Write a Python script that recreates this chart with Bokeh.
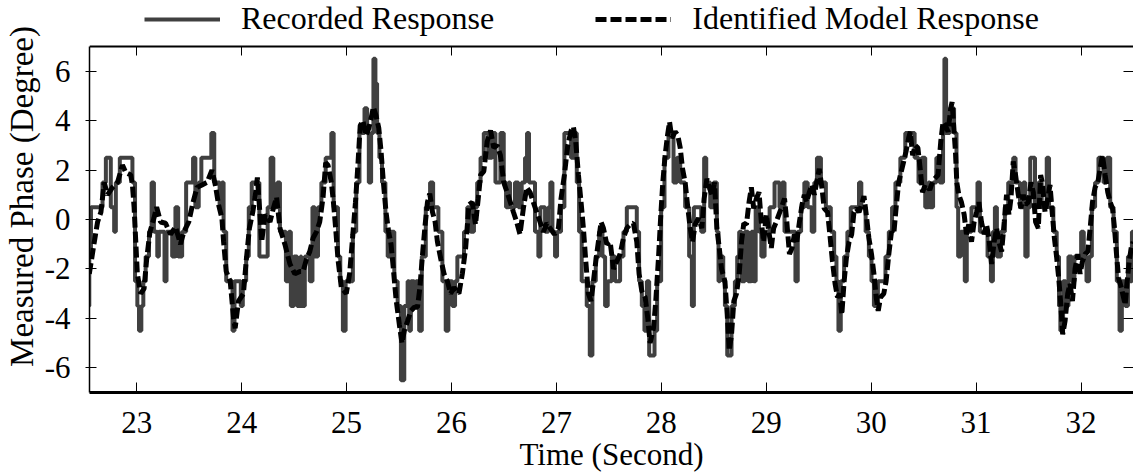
from bokeh.plotting import figure
from bokeh.models import Range1d, LinearAxis, FixedTicker, Legend, LegendItem
from bokeh.embed import file_html
from bokeh.resources import INLINE

# ---- data ----
x_ticks = [23, 24, 25, 26, 27, 28, 29, 30, 31, 32]
y_ticks = [-6, -4, -2, 0, 2, 4, 6]

record_time = [
    22.53, 22.548, 22.564, 22.674, 22.706, 22.753, 22.785, 22.801, 22.839, 22.959,
    22.984, 23.006, 23.022, 23.044, 23.063, 23.085, 23.117, 23.142, 23.164, 23.196,
    23.211, 23.265, 23.284, 23.338, 23.369, 23.395, 23.433, 23.471, 23.537, 23.559,
    23.591, 23.616, 23.711, 23.739, 23.790, 23.812, 23.828, 23.853, 23.913, 23.932,
    23.992, 24.011, 24.043, 24.068, 24.096, 24.169, 24.248, 24.276, 24.302, 24.340,
    24.365, 24.422, 24.450, 24.469, 24.498, 24.529, 24.561,
    24.570, 24.602, 24.649, 24.675, 24.697, 24.728, 24.760, 24.801, 24.855, 24.877,
    24.918, 24.940, 24.965, 24.991, 25.060, 25.092, 25.123, 25.171, 25.196, 25.212,
    25.234, 25.256, 25.275, 25.291, 25.313, 25.338, 25.370, 25.392, 25.424, 25.455,
    25.487, 25.518, 25.550, 25.582, 25.597, 25.613, 25.645, 25.661, 25.692, 25.717,
    25.755, 25.796, 25.825, 25.875, 25.913, 25.945, 25.970, 26.008, 26.034, 26.056,
    26.119, 26.150, 26.182, 26.214, 26.245, 26.277, 26.308, 26.350, 26.387, 26.419,
    26.466, 26.498, 26.520, 26.545,
    26.558, 26.605, 26.637, 26.669, 26.701, 26.720, 26.739, 26.796, 26.828, 26.847,
    26.892, 26.923, 26.942, 26.962, 26.987, 27.006, 27.044, 27.076, 27.140, 27.171,
    27.194, 27.216, 27.241, 27.289, 27.318, 27.343, 27.375, 27.407, 27.439, 27.464,
    27.489, 27.528, 27.559, 27.607, 27.639, 27.671, 27.766, 27.788, 27.814, 27.839,
    27.862, 27.884, 27.935, 27.960, 27.998, 28.030, 28.068, 28.116, 28.148, 28.180,
    28.227, 28.265, 28.291, 28.310, 28.380, 28.408, 28.428, 28.466, 28.498, 28.529,
    28.545,
    28.559, 28.590, 28.606, 28.628, 28.669, 28.701, 28.723, 28.742, 28.764, 28.795,
    28.827, 28.858, 28.880, 28.899, 28.931, 28.953, 28.984, 29.032, 29.079, 29.126,
    29.152, 29.174, 29.278, 29.300, 29.332, 29.363, 29.395, 29.433, 29.458, 29.483,
    29.521, 29.568, 29.615, 29.647, 29.669, 29.688, 29.710, 29.742, 29.773, 29.805,
    29.884, 29.906, 29.947, 29.978, 30.003, 30.026, 30.064, 30.136, 30.168, 30.199,
    30.231, 30.278, 30.325, 30.414, 30.451, 30.483, 30.515, 30.546,
    30.558, 30.590, 30.621, 30.653, 30.685, 30.698, 30.714, 30.749, 30.790, 30.813,
    30.829, 30.854, 30.892, 30.911, 30.956, 31.013, 31.036, 31.109, 31.141, 31.160,
    31.179, 31.198, 31.236, 31.274, 31.306, 31.354, 31.376, 31.418, 31.450, 31.469,
    31.491, 31.516, 31.561, 31.593, 31.625, 31.673, 31.695, 31.736, 31.768, 31.790,
    31.803, 31.829, 31.854, 31.880, 31.911, 31.937, 32.001, 32.026, 32.052, 32.077,
    32.103, 32.134, 32.166, 32.214, 32.246, 32.278, 32.310, 32.341, 32.367, 32.389,
    32.421, 32.447, 32.469, 32.485, 32.52,
]
record_phase = [
    -3.5, -1.5, 0.5, 1.5, 2.5, 0.5, -0.5, 1.5, 2.5, 1.5,
    -2.5, -3.5, -4.5, -3.5, -2.5, -1.5, -0.5, 1.5, -0.5, -1.5,
    -0.5, -2.5, -0.5, -1.5, 0.5, -1.5, -0.5, 1.5, 2.5, 0.5,
    1.5, 2.5, 3.5, 1.5, 0.5, 1.5, -0.5, -2.5, -4.5, -2.5,
    -3.5, -2.5, -1.5, 0.5, 1.5, -1.5, 0.5, 2.5, 0.5, 1.5,
    -0.5, -2.5, -0.5, -3.5, -1.5, -3.5, -1.5,
    -3.5, -1.5, -2.5, 0.5, -1.5, 0.5, 1.5, 2.5, 3.5, 0.5,
    -1.5, -2.5, -4.5, -2.5, -0.5, 1.5, 3.5, 4.5, 3.5, 1.5,
    3.5, 6.5, 5.5, 3.5, 2.5, 1.5, -0.5, -1.5, -0.5, -2.5,
    -3.5, -6.5, -3.5, -2.5, -4.5, -2.5, -3.5, -2.5, -4.5, -1.5,
    0.5, 1.5, 0.5, -0.5, -2.5, -4.5, -2.5, -3.5, -2.5, -1.5,
    -0.5, 0.5, -0.5, 0.5, 1.5, 2.5, 3.5, 2.5, 3.5, 1.5,
    3.5, 1.5, 0.5, 1.5,
    0.5, 1.5, 0.5, 1.5, 2.5, 3.5, 1.5, -0.5, -1.5, 0.5,
    -0.5, 0.5, 1.5, -0.5, -1.5, -0.5, 0.5, 3.5, 2.5, 3.5,
    1.5, -0.5, -2.5, -3.5, -5.5, -2.5, -1.5, -0.5, -1.5, -3.5,
    -2.5, -1.5, -2.5, -1.5, -0.5, 0.5, -0.5, -2.5, -3.5, -4.5,
    -2.5, -5.5, -4.5, -2.5, 0.5, 2.5, 3.5, 1.5, 2.5, 1.5,
    0.5, -1.5, -3.5, 0.5, -0.5, 2.5, 1.5, 0.5, 1.5, -0.5,
    -2.5,
    -1.5, -2.5, -3.5, -5.5, -3.5, -2.5, -1.5, -0.5, -2.5, -0.5,
    -2.5, -0.5, -2.5, 0.5, -0.5, -1.5, -0.5, 0.5, 1.5, 0.5,
    1.5, -0.5, -2.5, -0.5, 0.5, 1.5, 0.5, -0.5, 1.5, 2.5,
    1.5, 0.5, -0.5, -1.5, -2.5, -4.5, -2.5, -1.5, -0.5, 0.5,
    1.5, 0.5, -0.5, -1.5, -2.5, -3.5, -2.5, -1.5, -0.5, 0.5,
    1.5, 2.5, 3.5, 2.5, 1.5, 2.5, 0.5, 1.5,
    0.5, 1.5, 2.5, 1.5, 3.5, 6.5, 3.5, 4.5, 3.5, 0.5,
    -1.5, -0.5, -2.5, -0.5, 0.5, 1.5, -0.5, -1.5, -2.5, -0.5,
    0.5, -1.5, -0.5, 0.5, 1.5, 2.5, 1.5, 0.5, 1.5, -1.5,
    0.5, 2.5, 0.5, 1.5, 0.5, 2.5, 0.5, -0.5, -1.5, -3.5,
    -4.5, -2.5, -3.5, -1.5, -2.5, -1.5, -0.5, -1.5, -2.5, -1.5,
    0.5, 1.5, 2.5, 1.5, 2.5, 0.5, -0.5, -2.5, -4.5, -2.5,
    -3.5, -1.5, -2.5, -0.5, -0.5,
]

model_time = [
    22.548, 22.596, 22.627, 22.659, 22.690, 22.722, 22.769, 22.817, 22.864, 22.896,
    22.943, 22.959, 22.975, 22.991, 23.006, 23.038, 23.070, 23.095, 23.126, 23.164,
    23.190, 23.227, 23.275, 23.322, 23.370, 23.417, 23.449, 23.496, 23.537, 23.575,
    23.622, 23.670, 23.717, 23.749, 23.780, 23.812, 23.828, 23.853, 23.891, 23.923,
    23.938, 23.970, 24.017, 24.043, 24.074, 24.106, 24.128, 24.150, 24.175, 24.191,
    24.223, 24.270, 24.302, 24.333, 24.365, 24.412, 24.460, 24.507, 24.555,
    24.586, 24.618, 24.649, 24.681, 24.713, 24.744, 24.776, 24.801, 24.823, 24.855,
    24.877, 24.896, 24.918, 24.950, 24.997, 25.029, 25.060, 25.085, 25.108, 25.130,
    25.155, 25.187, 25.212, 25.234, 25.256, 25.281, 25.307, 25.329, 25.351, 25.376,
    25.401, 25.424, 25.446, 25.471, 25.503, 25.528, 25.550, 25.582, 25.613, 25.645,
    25.676, 25.699, 25.724, 25.749, 25.771, 25.793, 25.819, 25.844, 25.866, 25.898,
    25.929, 25.961, 25.992, 26.024, 26.071, 26.103, 26.135, 26.166, 26.198, 26.229,
    26.255, 26.277, 26.308, 26.340, 26.372, 26.403, 26.435, 26.466, 26.498, 26.530,
    26.561,
    26.590, 26.621, 26.653, 26.685, 26.717, 26.749, 26.780, 26.812, 26.844, 26.876,
    26.908, 26.939, 26.981, 27.019, 27.044, 27.076, 27.108, 27.140, 27.162, 27.184,
    27.210, 27.235, 27.257, 27.280, 27.305, 27.330, 27.353, 27.375, 27.400, 27.426,
    27.448, 27.480, 27.512, 27.544, 27.575, 27.607, 27.639, 27.671, 27.703, 27.734,
    27.766, 27.788, 27.814, 27.846, 27.871, 27.893, 27.925, 27.947, 27.973, 27.995,
    28.014, 28.036, 28.059, 28.078, 28.100, 28.132, 28.157, 28.180, 28.202, 28.227,
    28.253, 28.275, 28.297, 28.323, 28.354, 28.386, 28.408, 28.434, 28.456, 28.482,
    28.507, 28.529, 28.552,
    28.574, 28.606, 28.628, 28.647, 28.669, 28.691, 28.716, 28.742, 28.764, 28.786,
    28.811, 28.836, 28.858, 28.880, 28.906, 28.931, 28.953, 28.975, 29.000, 29.025,
    29.048, 29.070, 29.095, 29.120, 29.142, 29.174, 29.196, 29.221, 29.246, 29.268,
    29.291, 29.316, 29.341, 29.363, 29.385, 29.410, 29.436, 29.458, 29.480, 29.505,
    29.530, 29.552, 29.584, 29.606, 29.631, 29.656, 29.679, 29.701, 29.720, 29.742,
    29.764, 29.789, 29.814, 29.836, 29.858, 29.884, 29.909, 29.931, 29.953, 29.978,
    30.003, 30.026, 30.048, 30.067, 30.089, 30.120, 30.142, 30.168, 30.193, 30.215,
    30.237, 30.262, 30.287, 30.310, 30.332, 30.357, 30.373, 30.395, 30.420, 30.445,
    30.467, 30.489, 30.515, 30.540,
    30.558, 30.574, 30.606, 30.637, 30.663, 30.685, 30.707, 30.733, 30.758, 30.771,
    30.790, 30.803, 30.816, 30.835, 30.860, 30.886, 30.908, 30.930, 30.956, 30.981,
    31.004, 31.026, 31.051, 31.077, 31.099, 31.122, 31.147, 31.172, 31.195, 31.217,
    31.243, 31.268, 31.290, 31.313, 31.332, 31.354, 31.376, 31.402, 31.427, 31.450,
    31.472, 31.497, 31.523, 31.545, 31.567, 31.593, 31.615, 31.631, 31.657, 31.682,
    31.704, 31.727, 31.746, 31.768, 31.790, 31.809, 31.825, 31.848, 31.873, 31.895,
    31.918, 31.943, 31.969, 31.991, 32.013, 32.039, 32.064, 32.087, 32.109, 32.134,
    32.160, 32.182, 32.204, 32.230, 32.255, 32.278, 32.300, 32.319, 32.338, 32.357,
    32.383, 32.405, 32.421, 32.437, 32.459, 32.478, 32.497,
]
model_phase = [
    -2.2, -0.9, -0.1, 0.3, 1.5, 1.0, 1.3, 1.5, 2.2, 1.9,
    1.8, 1.4, 0.5, -0.9, -2.2, -3.0, -2.8, -1.6, -0.5, 0.05,
    0.5, -0.1, -0.15, -0.6, -0.3, -1.0, -0.5, -0.1, 0.7, 1.3,
    1.4, 1.5, 2.0, 1.4, 0.6, 0.05, -0.9, -2.1, -2.5, -4.0,
    -4.4, -3.3, -3.0, -1.7, -0.35, 0.3, 0.9, 1.7, 0.2, -0.9,
    0.2, -0.1, 0.45, 0.9, -0.35, -1.0, -1.8, -2.2, -2.1,
    -2.1, -1.6, -1.3, -0.75, -0.5, -0.1, 0.9, 2.3, 2.2, 1.5,
    0.6, -0.35, -1.6, -2.75, -3.0, -2.2, -0.6, 0.7, 2.2, 3.8,
    4.0, 3.4, 3.7, 4.1, 4.55, 4.2, 3.7, 2.75, 1.5, 0.3,
    -0.5, -1.0, -2.0, -3.2, -4.25, -5.0, -4.5, -4.1, -3.7, -3.55,
    -3.55, -2.75, -1.4, -0.2, 0.7, 1.05, 0.3, -0.1, -0.9, -1.6,
    -2.2, -2.5, -3.0, -2.75, -3.0, -2.2, -1.15, 0.6, 0.7, -0.2,
    0.85, 1.8, 1.95, 3.15, 3.6, 2.9, 3.0, 2.6, 1.5, 1.1,
    0.7,
    0.3, -0.1, -0.6, 0.45, 1.3, 1.1, 0.7, 0.3, -0.1, -0.5,
    -0.15, -0.35, -0.6, -0.35, 0.85, 1.8, 3.0, 3.6, 3.75, 3.15,
    1.8, 0.7, -0.35, -1.7, -3.0, -3.3, -2.5, -1.7, -0.9, -0.1,
    -0.35, -1.0, -0.9, -2.0, -1.7, -1.4, -0.75, -0.35, -0.2, -0.15,
    -0.9, -2.2, -2.9, -3.15, -4.0, -5.0, -4.4, -3.3, -1.55, 0.2,
    1.5, 2.6, 3.4, 3.95, 3.3, 3.55, 3.4, 2.9, 2.05, 1.5,
    0.45, -0.35, -0.9, -0.2, 0.05, -0.35, 0.85, 1.65, 1.3, 1.0,
    1.5, -0.35, -1.15,
    -2.0, -2.5, -3.85, -5.3, -4.65, -3.3, -3.0, -2.2, -0.9, -0.15,
    -0.2, 0.7, 1.3, 0.45, 0.85, 1.1, -0.1, -0.9, 0.2, -0.5,
    -1.15, -0.35, -0.1, 0.2, 0.45, 0.85, -0.1, -1.4, -1.15, -0.6,
    -0.9, -0.1, 0.6, 1.0, 0.7, 1.1, 1.4, 1.0, 1.5, 2.05,
    1.3, 0.45, 0.3, -0.6, -1.7, -2.6, -3.15, -3.0, -3.85, -2.5,
    -1.55, -0.9, -0.6, 0.3, 0.45, 0.3, 0.6, 0.95, 0.2, -0.75,
    -1.4, -2.2, -3.15, -3.7, -3.15, -3.0, -2.5, -1.4, -0.5, -0.6,
    0.45, 1.5, 1.95, 2.35, 2.75, 3.3, 3.55, 2.6, 3.0, 2.9,
    2.05, 1.1, 1.4, 1.3,
    1.2, 1.4, 1.65, 1.8, 3.15, 3.95, 3.8, 3.55, 4.5, 4.75,
    3.55, 2.75, 1.5, 1.0, 0.7, 0.2, -0.6, -0.2, -0.9, -0.1,
    0.3, 0.7, -0.1, -0.6, -0.2, -0.75, -1.8, -0.9, -0.35, -0.9,
    -1.3, -0.1, 1.0, 0.2, 0.85, 2.35, 1.8, 1.0, 0.45, 1.0,
    0.6, 0.7, 1.5, 1.1, -0.1, -0.35, 1.8, 1.5, 0.3, 0.85,
    1.4, 0.2, -0.75, -1.55, -2.5, -3.55, -4.65, -4.1, -3.0, -2.6,
    -3.3, -2.0, -1.4, -2.2, -1.7, -1.4, -1.3, -0.35, 0.7, 1.3,
    1.5, 2.05, 2.6, 1.8, 1.1, 0.7, 0.45, -0.35, -1.4, -2.35,
    -2.75, -3.15, -3.45, -2.6, -1.7, -1.15, -0.9,
]

assert len(record_time) == len(record_phase), (len(record_time), len(record_phase))
assert len(model_time) == len(model_phase), (len(model_time), len(model_phase))

FONT = "'Liberation Serif', serif"
Y_TOP = 7 + 46 / (346 / 14)   # room above the data box for the legend

p = figure(
    width=1133, height=475,
    x_range=Range1d(22.55, 32.5), y_range=Range1d(-7, Y_TOP),
    output_backend="svg", toolbar_location=None,
    min_border_left=87, min_border_right=0, min_border_top=0, min_border_bottom=83,
)
p.outline_line_color = None
p.xgrid.grid_line_color = None
p.ygrid.grid_line_color = None

rec = p.step(record_time, record_phase, mode="after", line_color="#404040", line_width=4)
mod = p.line(model_time, model_phase, line_color="black", line_width=5, line_dash="11 4")

xa = p.xaxis[0]
xa.ticker = FixedTicker(ticks=x_ticks)
xa.major_label_overrides = {t: str(t) for t in x_ticks}
xa.axis_label = "Time (Second)"
xa.axis_label_text_font = FONT
xa.axis_label_text_font_size = "31px"
xa.axis_label_text_font_style = "normal"
xa.axis_label_text_color = "black"
xa.axis_label_standoff = 1
xa.major_label_text_font = FONT
xa.major_label_text_font_size = "31px"
xa.major_label_text_color = "black"
xa.major_label_standoff = 19
xa.major_tick_in = 10
xa.major_tick_out = 0
xa.minor_tick_in = 0
xa.minor_tick_out = 0
xa.axis_line_width = 3
xa.axis_line_color = "black"
xa.major_tick_line_color = "black"

ya = p.yaxis[0]
ya.ticker = FixedTicker(ticks=y_ticks)
ya.major_label_overrides = {t: str(t) for t in y_ticks}
ya.axis_label = "Measured Phase (Degree)"
ya.axis_label_text_font = FONT
ya.axis_label_text_font_size = "33px"
ya.axis_label_text_font_style = "normal"
ya.axis_label_text_color = "black"
ya.axis_label_standoff = 2
ya.major_label_text_font = FONT
ya.major_label_text_font_size = "31px"
ya.major_label_text_color = "black"
ya.major_label_standoff = 15
ya.major_tick_in = 7
ya.major_tick_out = 4
ya.minor_tick_in = 0
ya.minor_tick_out = 0
ya.axis_line_width = 1.5
ya.axis_line_color = "black"
ya.major_tick_line_color = "black"
ya.bounds = (-7, 7)

top = LinearAxis(ticker=FixedTicker(ticks=x_ticks), fixed_location=7,
                 major_label_overrides={t: "" for t in x_ticks},
                 major_label_text_font_size="1px", major_label_standoff=0,
                 major_tick_in=9, major_tick_out=0, minor_tick_in=0, minor_tick_out=0,
                 axis_line_width=2, axis_line_color="black", major_tick_line_color="black")
p.add_layout(top, "above")
right = LinearAxis(ticker=FixedTicker(ticks=y_ticks),
                   major_label_overrides={t: "" for t in y_ticks},
                   major_label_text_font_size="1px", major_label_standoff=0,
                   major_tick_in=10, major_tick_out=0, minor_tick_in=0, minor_tick_out=0,
                   axis_line_color=None, major_tick_line_color="black")
p.add_layout(right, "right")

legend = Legend(
    items=[LegendItem(label="Recorded Response", renderers=[rec]),
           LegendItem(label="Identified Model Response", renderers=[mod])],
    orientation="horizontal", location=(55, 355),
    border_line_color=None, background_fill_alpha=0,
    label_text_font=FONT, label_text_font_size="32px", label_text_color="black",
    glyph_width=76, glyph_height=20, label_standoff=21, spacing=101,
    padding=0, margin=0,
)
p.add_layout(legend)

open("out.html", "w").write(file_html(p, INLINE))
